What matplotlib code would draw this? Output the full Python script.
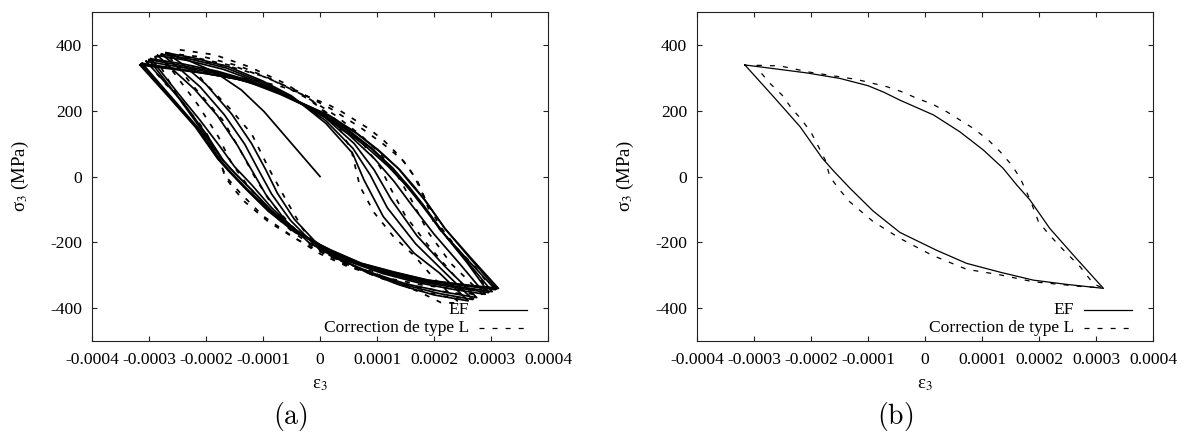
import numpy as np
import matplotlib
matplotlib.use("Agg")
import matplotlib.pyplot as plt

# --- DATA (strain in units of 1e-4, stress in MPa) ---
X_TICKS = [-0.0004, -0.0003, -0.0002, -0.0001, 0.0, 0.0001, 0.0002, 0.0003, 0.0004]
Y_TICKS = [-400, -200, 0, 200, 400]
LEGEND_LABELS = ["EF", "Correction de type L"]
PANEL_LABELS = ["(a)", "(b)"]

# final stabilised cycle, EF (panel b)
EF_FINAL_X = [-3.16, -2.66, -2.08, -1.49, -1.0, -0.72, -0.44, 0.15, 0.61, 1.02, 1.37, 1.61,
              1.84, 2.19, 2.66, 3.13,
              2.49, 1.9, 1.32, 0.73, 0.2, -0.44, -0.91, -1.32, -1.61, -1.8, -2.19, -2.66, -3.16]
EF_FINAL_Y = [339, 328, 315, 298, 276, 256, 232, 187, 136, 81, 25, -26,
              -71, -158, -250, -340,
              -328, -315, -291, -264, -224, -170, -105, -35, 18, 55, 151, 243, 339]

# final stabilised cycle, correction de type L (panel b)
CL_FINAL_X = [-2.95, -2.54, -2.02, -1.2, -0.67, -0.38, -0.15, 0.13, 0.38, 0.85, 1.11, 1.32,
              1.52, 1.67, 1.78, 1.87, 1.99, 2.16, 2.37, 2.72, 2.95, 3.1,
              2.78, 1.9, 1.32, 0.73, 0.12, -0.44, -0.91, -1.32, -1.52, -1.67, -1.75, -1.87,
              -1.99, -2.16, -2.34, -2.51, -2.72, -2.92, -2.95]
CL_FINAL_Y = [338, 336, 317, 295, 273, 256, 238, 220, 197, 146, 111, 75,
              35, -5, -46, -82, -137, -173, -213, -274, -325, -338,
              -335, -320, -299, -282, -239, -188, -137, -77, -36, 0, 50, 91,
              131, 172, 207, 248, 283, 324, 338]

# panel a: first loading + successive EF cycles
EF_LOAD_X = [0.0, -0.98, -1.38, -1.85, -2.3, -2.70]
EF_LOAD_Y = [0, 197, 263, 318, 352, 376]

EF_C1_X = [-2.70, -2.2, -1.6, -1.0, -0.5, 0.1, 0.57, 0.77, 1.11, 1.65, 2.1, 2.60,
           2.0, 1.4, 0.8, 0.3, -0.1, -0.45, -0.75, -0.95, -1.2, -1.55, -2.0, -2.4, -2.70]
EF_C1_Y = [376, 360, 333, 290, 245, 162, 71, -10, -122, -233, -294, -378,
           -360, -330, -290, -245, -195, -130, -50, 20, 100, 190, 280, 340, 376]

EF_C2_X = [-2.78, -2.25, -1.65, -1.05, -0.5, 0.1, 0.58, 0.88, 1.18, 1.68, 2.15, 2.68,
           2.1, 1.45, 0.85, 0.3, -0.15, -0.52, -0.85, -1.08, -1.32, -1.68, -2.1, -2.48, -2.78]
EF_C2_Y = [372, 356, 330, 289, 243, 170, 85, 5, -95, -205, -285, -374,
           -356, -328, -291, -248, -198, -133, -53, 20, 98, 188, 272, 330, 372]

EF_C3_X = [-2.85, -2.3, -1.7, -1.1, -0.5, 0.1, 0.6, 0.95, 1.25, 1.7, 2.2, 2.75,
           2.2, 1.5, 0.9, 0.3, -0.2, -0.6, -0.95, -1.2, -1.45, -1.8, -2.2, -2.55, -2.85]
EF_C3_Y = [368, 352, 326, 288, 240, 178, 100, 20, -70, -180, -275, -368,
           -352, -326, -292, -250, -200, -135, -55, 20, 95, 185, 265, 320, 368]

EF_C4_X = [-2.97, -2.4, -1.8, -1.2, -0.6, 0.0, 0.5, 0.95, 1.3, 1.6, 2.0, 2.45, 2.90,
           2.3, 1.7, 1.1, 0.5, 0.0, -0.45, -0.85, -1.2, -1.5, -1.75, -2.1, -2.5, -2.97]
EF_C4_Y = [358, 342, 320, 290, 245, 192, 128, 55, -15, -85, -175, -265, -358,
           -342, -322, -295, -258, -215, -160, -95, -25, 30, 90, 170, 255, 358]

EF_C5_X = [-3.0, -2.45, -1.85, -1.25, -0.65, -0.05, 0.45, 0.92, 1.28, 1.58, 1.82, 2.2, 2.58, 2.96,
           2.35, 1.75, 1.15, 0.55, 0.05, -0.42, -0.86, -1.22, -1.5, -1.72, -2.05, -2.45, -3.0]
EF_C5_Y = [355, 338, 318, 292, 250, 200, 148, 84, 25, -35, -88, -180, -262, -353,
           -337, -320, -294, -258, -218, -163, -102, -38, 12, 52, 135, 232, 355]

EF_C6_X = [-3.05, -2.5, -1.9, -1.3, -0.7, -0.1, 0.4, 0.9, 1.25, 1.55, 1.8, 2.2, 2.6, 3.02,
           2.4, 1.8, 1.2, 0.6, 0.1, -0.4, -0.85, -1.2, -1.5, -1.7, -2.0, -2.4, -3.05]
EF_C6_Y = [350, 334, 316, 290, 250, 202, 150, 85, 25, -35, -90, -180, -262, -350,
           -334, -318, -293, -260, -220, -165, -105, -40, 10, 50, 130, 225, 350]

EF_C7_X = [-3.12, -2.6, -2.0, -1.4, -0.8, -0.2, 0.3, 0.8, 1.2, 1.5, 1.75, 2.1, 2.6, 3.08,
           2.45, 1.85, 1.25, 0.65, 0.15, -0.4, -0.88, -1.28, -1.55, -1.75, -2.1, -2.6, -3.12]
EF_C7_Y = [344, 330, 314, 294, 262, 210, 158, 92, 30, -25, -75, -160, -255, -344,
           -330, -316, -292, -263, -224, -168, -105, -38, 10, 50, 140, 240, 344]

EF_C8_X = [-3.14, -2.62, -2.04, -1.45, -0.95, -0.4, 0.2, 0.65, 1.05, 1.4, 1.65, 1.85, 2.2, 2.65, 3.10,
           2.47, 1.88, 1.28, 0.7, 0.18, -0.42, -0.9, -1.3, -1.58, -1.78, -2.15, -2.63, -3.14]
EF_C8_Y = [342, 329, 314, 296, 272, 230, 180, 130, 75, 20, -30, -75, -160, -252, -342,
           -329, -315, -291, -263, -224, -169, -105, -37, 14, 52, 146, 241, 342]

# panel a: successive correction cycles
CL_C1_X = [-2.46, -1.85, -1.25, -0.6, -0.1, 0.3, 0.55, 0.7, 0.95, 1.3, 1.65, 2.0, 2.45,
           2.12, 1.78, 1.11, 0.44, 0.0, -0.3, -0.6, -0.9, -1.2, -1.6, -2.05, -2.46]
CL_C1_Y = [385, 370, 334, 282, 225, 160, 80, -30, -110, -185, -240, -310, -385,
           -383, -354, -304, -263, -225, -160, -70, 25, 130, 210, 290, 385]

CL_C2_X = [-2.7, -2.0, -1.4, -0.8, -0.2, 0.3, 0.75, 1.05, 1.25, 1.5, 1.9, 2.35, 2.75,
           2.2, 1.6, 1.0, 0.4, -0.1, -0.5, -0.9, -1.15, -1.4, -1.7, -2.2, -2.7]
CL_C2_Y = [375, 362, 335, 292, 235, 170, 100, 30, -40, -120, -210, -300, -372,
           -365, -340, -305, -262, -210, -150, -70, 0, 80, 170, 270, 375]

CL_C3_X = [-2.8, -2.1, -1.5, -0.9, -0.3, 0.25, 0.72, 1.08, 1.35, 1.6, 1.9, 2.3, 2.85,
           2.3, 1.7, 1.05, 0.45, -0.05, -0.5, -0.95, -1.28, -1.55, -1.78, -2.15, -2.8]
CL_C3_Y = [370, 358, 335, 298, 248, 188, 125, 65, 5, -70, -170, -265, -358,
           -354, -335, -305, -268, -222, -165, -95, -25, 40, 120, 220, 370]

CL_C4_X = [-2.9, -2.2, -1.6, -1.0, -0.4, 0.2, 0.7, 1.1, 1.45, 1.7, 1.85, 2.1, 2.5, 2.95,
           2.4, 1.8, 1.1, 0.5, 0.0, -0.5, -1.0, -1.4, -1.65, -1.8, -2.1, -2.5, -2.9]
CL_C4_Y = [365, 355, 335, 305, 260, 205, 150, 100, 50, -10, -70, -150, -240, -345,
           -343, -330, -306, -275, -235, -180, -120, -50, 0, 60, 150, 245, 365]

EF_CYCLES = [(EF_LOAD_X, EF_LOAD_Y), (EF_C1_X, EF_C1_Y), (EF_C2_X, EF_C2_Y),
             (EF_C3_X, EF_C3_Y), (EF_C4_X, EF_C4_Y), (EF_C5_X, EF_C5_Y),
             (EF_C6_X, EF_C6_Y), (EF_C7_X, EF_C7_Y), (EF_C8_X, EF_C8_Y),
             (EF_FINAL_X, EF_FINAL_Y)]
CL_CYCLES = [(CL_C1_X, CL_C1_Y), (CL_C2_X, CL_C2_Y), (CL_C3_X, CL_C3_Y),
             (CL_C4_X, CL_C4_Y), (CL_FINAL_X, CL_FINAL_Y)]

SCALE = 1e-4

plt.rcParams['font.family'] = ['Liberation Serif', 'DejaVu Serif']
plt.rcParams['mathtext.fontset'] = 'stix'
plt.rcParams['axes.unicode_minus'] = False
plt.rcParams['lines.scale_dashes'] = False

DASH = (3.6, 5.8)
LW = 0.9
LW_A = 1.25   # many overlapping cycles in panel a
FS = 12.6

fig = plt.figure(figsize=(11.89, 4.32), dpi=100)
ax_a = fig.add_axes([0.07738, 0.21065, 0.38352, 0.76157])
ax_b = fig.add_axes([0.58621, 0.21065, 0.38352, 0.76157])


def style_axes(ax):
    ax.set_xlim(-0.0004, 0.0004)
    ax.set_ylim(-500, 500)
    ax.set_xticks(X_TICKS)
    ax.set_xticklabels(['%g' % t for t in X_TICKS])
    ax.set_yticks(Y_TICKS)
    ax.set_yticklabels(['%g' % t for t in Y_TICKS])
    ax.tick_params(direction='in', length=3.6, width=0.8, top=True, right=True,
                   labelsize=FS, colors='#222222', labelcolor='black')
    ax.tick_params(axis='x', pad=8)
    ax.tick_params(axis='y', pad=7)
    for s in ax.spines.values():
        s.set_linewidth(0.8)
        s.set_color('#222222')
    ax.set_xlabel('ε$_3$', fontsize=13.5, labelpad=6)
    ax.set_ylabel('σ$_3$ (MPa)', fontsize=13.5)
    ax.yaxis.label.set_verticalalignment('center')
    ax.yaxis.set_label_coords(-0.156, 0.5)

    # gnuplot-style key, bottom right
    ax.text(0.827, 0.094, LEGEND_LABELS[0], transform=ax.transAxes, ha='right',
            va='center', fontsize=FS)
    ax.text(0.827, 0.041, LEGEND_LABELS[1], transform=ax.transAxes, ha='right',
            va='center', fontsize=FS)
    ax.plot([0.848, 0.953], [0.094, 0.094], color='black', lw=LW, transform=ax.transAxes)
    ax.plot([0.848, 0.953], [0.041, 0.041], color='black', lw=LW, dashes=DASH,
            transform=ax.transAxes)


# panel (a): all cycles
for cx, cy in EF_CYCLES:
    ax_a.plot(np.array(cx) * SCALE, cy, color='black', lw=LW_A)
for cx, cy in CL_CYCLES:
    ax_a.plot(np.array(cx) * SCALE, cy, color='black', lw=LW_A, dashes=DASH)

# panel (b): stabilised cycle only
ax_b.plot(np.array(EF_FINAL_X) * SCALE, EF_FINAL_Y, color='black', lw=LW)
ax_b.plot(np.array(CL_FINAL_X) * SCALE, CL_FINAL_Y, color='black', lw=LW, dashes=DASH)

style_axes(ax_a)
style_axes(ax_b)

fig.text(290 / 1189, 0.0185, r'$\mathrm{%s}$' % PANEL_LABELS[0], ha='center',
         va='baseline', fontsize=20, math_fontfamily='cm')
fig.text(895 / 1189, 0.0185, r'$\mathrm{%s}$' % PANEL_LABELS[1], ha='center',
         va='baseline', fontsize=20, math_fontfamily='cm')

fig.savefig('out.png', dpi=100)
